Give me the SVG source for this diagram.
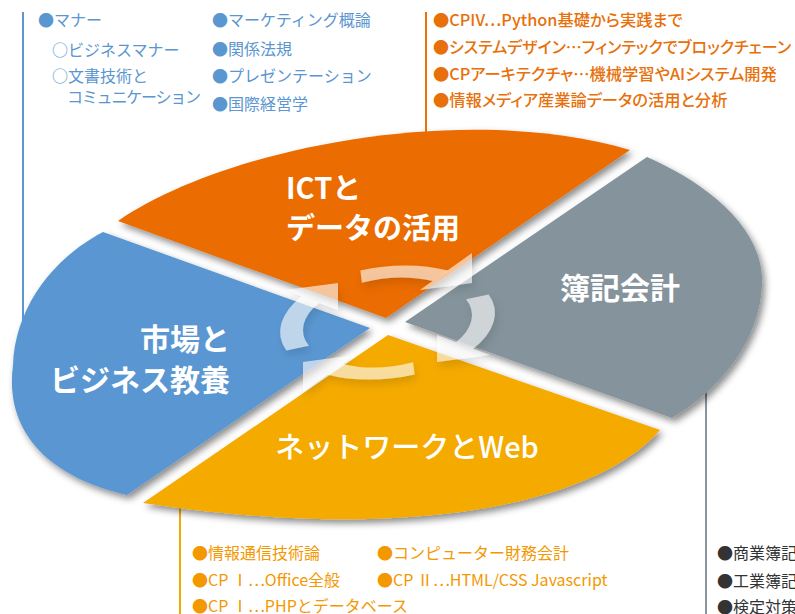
<svg xmlns="http://www.w3.org/2000/svg" width="795" height="614" viewBox="0 0 795 614">
<style>
.lbl{font-family:"Noto Sans CJK JP","Noto Sans",sans-serif;font-weight:700;fill:#fff;font-size:30px}
.lst{font-family:"Noto Sans CJK JP","Noto Sans",sans-serif;font-size:16px}
.blue{fill:#5A96D0}
.org{fill:#E8700A;font-weight:500;font-size:16.3px;font-feature-settings:"palt"}
.yel{fill:#F39800}
.gry{fill:#333}
.vline{stroke-width:2;fill:none}
.ring{fill:#fff;fill-opacity:0.6}
</style>
<defs>
<filter id="sh" x="-10%" y="-10%" width="125%" height="130%">
<feDropShadow dx="3" dy="4" stdDeviation="3.5" flood-color="#000" flood-opacity="0.45"/>
</filter>
<filter id="ash" x="-30%" y="-30%" width="160%" height="160%">
<feDropShadow dx="2" dy="5" stdDeviation="4" flood-color="#000" flood-opacity="0.2"/>
</filter>
</defs>

<g id="connectors">
<line class="vline" x1="23" y1="12" x2="23" y2="340" stroke="#5B98D2"/>
<line class="vline" x1="426" y1="12" x2="426" y2="140" stroke="#E8720C"/>
<line class="vline" x1="180" y1="495" x2="180" y2="614" stroke="#F5A800"/>
<line class="vline" x1="706" y1="380" x2="706" y2="614" stroke="#8896A0"/>
</g>

<g id="sector-ict" filter="url(#sh)">
<path d="M118,221 C220,150 460,100 630,150 L386,318 Z" fill="#EB6C00"/>
</g>
<g id="sector-boki" filter="url(#sh)">
<path d="M647,157 C700,180 765,225 762,285 C760,340 720,390 672,418 L405,322 Z" fill="#85949C"/>
</g>
<g id="sector-web" filter="url(#sh)">
<path d="M388,335 L660,430 C600,500 420,545 143,503 Z" fill="#F5AA00"/>
</g>
<g id="sector-market" filter="url(#sh)">
<path d="M103,232 L370,328 L127,495 C40,475 5,425 13,365 C15,310 50,260 103,232 Z" fill="#5A97D2"/>
</g>

<g id="cycle-arrows" filter="url(#ash)">
<g transform="rotate(-7 387.5 322.5)">
<path class="ring" d="M408.06,365.19 L408.11,377.47 A108,56 0 0 1 321.01,366.63 L337.54,358.10 A85,44 0 0 0 408.06,365.19 Z"/>
<path class="ring" d="M366.94,279.81 L366.89,267.53 A108,56 0 0 1 453.99,278.37 L437.46,286.90 A85,44 0 0 0 366.94,279.81 Z"/>
<path class="ring" d="M468.34,308.90 L491.32,307.06 A108,56 0 0 1 469.01,359.24 L453.09,350.49 A85,44 0 0 0 468.34,308.90 Z"/>
<path class="ring" d="M306.66,336.10 L283.68,337.94 A108,56 0 0 1 305.99,285.76 L321.91,294.51 A85,44 0 0 0 306.66,336.10 Z"/>
</g>
<polygon class="ring" points="303,362 303,392 355,355"/>
<polygon class="ring" points="472,283 472,253 420,290"/>
<polygon class="ring" points="437,362 437,335 490,355"/>
<polygon class="ring" points="338,283 338,310 285,290"/>
</g>

<g id="node-ict">
<text class="lbl" x="286" y="199" style="font-size:29px">ICTと</text>
<text class="lbl" x="286" y="239" style="font-size:29px">データの活用</text>
</g>
<g id="node-boki">
<text class="lbl" x="560" y="299">簿記会計</text>
</g>
<g id="node-market">
<text class="lbl" x="230" y="350" text-anchor="end">市場と</text>
<text class="lbl" x="230" y="391" text-anchor="end">ビジネス教養</text>
</g>
<g id="node-web">
<text class="lbl" x="407" y="458" text-anchor="middle" style="font-weight:500;font-size:29px">ネットワークとWeb</text>
</g>

<g id="list-market" class="lst blue">
<text x="38" y="26">●マナー</text>
<text x="52" y="56">○ビジネスマナー</text>
<text x="52" y="82">○文書技術と</text>
<text x="67" y="103" style="letter-spacing:-1.2px">コミュニケーション</text>
<text x="212" y="26">●マーケティング概論</text>
<text x="212" y="55">●関係法規</text>
<text x="212" y="82">●プレゼンテーション</text>
<text x="212" y="110">●国際経営学</text>
</g>
<g id="list-ict" class="lst org">
<text x="433" y="26">●CPIV…Python基礎から実践まで</text>
<text x="433" y="53" textLength="358" lengthAdjust="spacingAndGlyphs">●システムデザイン…フィンテックでブロックチェーン</text>
<text x="433" y="80">●CPアーキテクチャ…機械学習やAIシステム開発</text>
<text x="433" y="106">●情報メディア産業論データの活用と分析</text>
</g>
<g id="list-web" class="lst yel">
<text x="192" y="559">●情報通信技術論</text>
<text x="377" y="559">●コンピューター財務会計</text>
<text x="192" y="586">●CP Ⅰ…Office全般</text>
<text x="377" y="586">●CP Ⅱ…HTML/CSS Javascript</text>
<text x="192" y="612">●CP Ⅰ…PHPとデータベース</text>
</g>
<g id="list-boki" class="lst gry">
<text x="717" y="559">●商業簿記</text>
<text x="717" y="587">●工業簿記</text>
<text x="717" y="613">●検定対策</text>
</g>
</svg>
